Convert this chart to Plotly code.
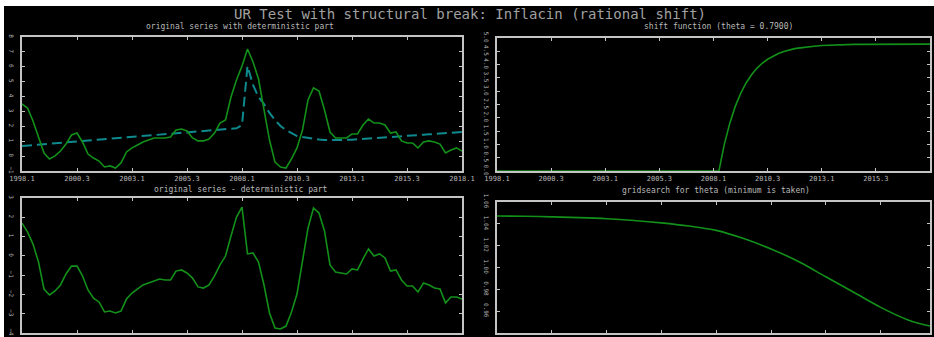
import plotly.graph_objects as go

W, H = 934, 337

# ---------------- data ----------------
years = [1998 + q / 4 for q in range(81)]
x_tickvals = [1998.0, 2000.5, 2003.0, 2005.5, 2008.0, 2010.5, 2013.0, 2015.5, 2018.0]
x_ticktext = ["1998.1", "2000.3", "2003.1", "2005.3", "2008.1", "2010.3", "2013.1", "2015.3", "2018.1"]

original = [3.50, 3.23, 2.36, 1.35, 0.21, -0.19, 0.01, 0.34, 0.81, 1.42,
            1.55, 0.95, 0.14, -0.13, -0.33, -0.73, -0.66, -0.80, -0.46, 0.28,
            0.55, 0.75, 0.95, 1.08, 1.22, 1.22, 1.22, 1.28, 1.75, 1.82,
            1.69, 1.22, 1.02, 1.02, 1.15, 1.55, 2.22, 2.43, 3.97, 5.11,
            6.05, 7.19, 6.32, 5.18, 3.10, 1.08, -0.40, -0.73, -0.80, -0.19,
            0.55, 1.75, 3.77, 4.58, 4.37, 3.10, 1.62, 1.22, 1.22, 1.22,
            1.49, 1.49, 2.09, 2.49, 2.22, 2.22, 2.09, 1.55, 1.62, 1.02,
            0.88, 0.88, 0.55, 0.95, 1.02, 0.95, 0.81, 0.21, 0.41, 0.55,
            0.34]

deterministic = [0.68, 0.71, 0.74, 0.77, 0.80, 0.83, 0.86, 0.89, 0.92, 0.95,
                 0.99, 1.02, 1.05, 1.08, 1.11, 1.14, 1.17, 1.20, 1.23, 1.26,
                 1.29, 1.32, 1.35, 1.38, 1.41, 1.44, 1.47, 1.50, 1.53, 1.56,
                 1.60, 1.63, 1.66, 1.69, 1.72, 1.75, 1.78, 1.81, 1.84, 1.87,
                 2.09, 6.05, 4.78, 3.97, 3.50, 2.90, 2.43, 2.02, 1.75, 1.55,
                 1.35, 1.28, 1.22, 1.15, 1.12, 1.09, 1.08, 1.08, 1.08, 1.09,
                 1.10, 1.13, 1.15, 1.18, 1.20, 1.23, 1.26, 1.28, 1.31, 1.33,
                 1.36, 1.39, 1.41, 1.44, 1.46, 1.49, 1.52, 1.54, 1.57, 1.59,
                 1.62]

residual = [1.70, 1.24, 0.61, -0.32, -1.72, -2.03, -1.82, -1.51, -0.94, -0.53,
            -0.53, -1.04, -1.77, -2.19, -2.39, -2.91, -2.86, -2.96, -2.86, -2.24,
            -1.93, -1.72, -1.51, -1.41, -1.30, -1.20, -1.25, -1.25, -0.79, -0.73,
            -0.89, -1.15, -1.61, -1.67, -1.51, -1.04, -0.47, -0.01, 1.03, 2.01,
            2.53, 0.10, 0.15, -0.32, -1.51, -2.96, -3.74, -3.79, -3.64, -2.91,
            -1.98, -0.32, 1.44, 2.48, 2.22, 1.29, -0.47, -0.84, -0.89, -0.94,
            -0.68, -0.73, -0.16, 0.36, -0.01, 0.10, -0.11, -0.79, -0.73, -1.25,
            -1.56, -1.56, -1.87, -1.41, -1.51, -1.67, -1.72, -2.44, -2.13, -2.13,
            -2.24]

shift = [0.00, 0.00, 0.00, 0.00, 0.00, 0.00, 0.00, 0.00, 0.00, 0.00,
         0.00, 0.00, 0.00, 0.00, 0.00, 0.00, 0.00, 0.00, 0.00, 0.00,
         0.00, 0.00, 0.00, 0.00, 0.00, 0.00, 0.00, 0.00, 0.00, 0.00,
         0.00, 0.00, 0.00, 0.00, 0.00, 0.00, 0.00, 0.00, 0.00, 0.00,
         0.00, 0.00, 1.00, 1.79, 2.42, 2.91, 3.30, 3.61, 3.86, 4.05,
         4.20, 4.32, 4.42, 4.49, 4.55, 4.60, 4.63, 4.66, 4.69, 4.70,
         4.72, 4.73, 4.74, 4.75, 4.75, 4.76, 4.76, 4.76, 4.76, 4.77,
         4.77, 4.77, 4.77, 4.77, 4.77, 4.77, 4.77, 4.77, 4.77, 4.77,
         4.77]

theta_grid = [0.00, 0.05, 0.10, 0.15, 0.20, 0.25, 0.30, 0.35, 0.40,
              0.45, 0.50, 0.55, 0.60, 0.65, 0.70, 0.75, 0.79]
gridsearch = [1.0472, 1.0469, 1.0464, 1.0457, 1.0447, 1.0431, 1.0409, 1.0380, 1.0340,
              1.0265, 1.0170, 1.0055, 0.9915, 0.9775, 0.9635, 0.9520, 0.9464]

title = "UR Test with structural break: Inflacin (rational shift)"
sub_titles = ["original series with deterministic part",
              "shift function (theta = 0.7900)",
              "original series - deterministic part",
              "gridsearch for theta (minimum is taken)"]

# ---------------- styling ----------------
GREEN = "#12901a"
TEAL = "#0e8a8e"
FRAME = "#c4c4c4"
TXT = "#b8b8b8"
MONO = "DejaVu Sans Mono"


def px_x(p):
    return p / W


def px_y(p):
    return 1 - p / H


fig = go.Figure()

fig.add_trace(go.Scatter(x=years, y=deterministic, mode="lines", xaxis="x", yaxis="y",
                         line=dict(color=TEAL, width=2, dash="10px,5px"), showlegend=False))
fig.add_trace(go.Scatter(x=years, y=original, mode="lines", xaxis="x", yaxis="y",
                         line=dict(color=GREEN, width=1.6), showlegend=False))
fig.add_trace(go.Scatter(x=years, y=shift, mode="lines", xaxis="x2", yaxis="y2",
                         line=dict(color=GREEN, width=1.6), showlegend=False))
fig.add_trace(go.Scatter(x=years, y=residual, mode="lines", xaxis="x3", yaxis="y3",
                         line=dict(color=GREEN, width=1.6), showlegend=False))
fig.add_trace(go.Scatter(x=theta_grid, y=gridsearch, mode="lines", xaxis="x4", yaxis="y4",
                         line=dict(color=GREEN, width=1.6, shape="spline"), showlegend=False))

ax_base = dict(showline=True, linecolor=FRAME, linewidth=2, mirror="allticks",
               ticks="inside", ticklen=3, tickcolor=FRAME, tickwidth=1,
               showgrid=False, zeroline=False, automargin=False)
x_font = dict(family=MONO, size=7, color=TXT)
y_font = dict(family=MONO, size=6, color=TXT)

xL = [px_x(22), px_x(462)]
xR = [px_x(497), px_x(930)]
yT = [px_y(171), px_y(37)]
yTR = [px_y(171), px_y(38)]
yB = [px_y(333), px_y(198)]
yBR = [px_y(333), px_y(202)]

fig.update_layout(
    width=W, height=H,
    margin=dict(l=0, r=0, t=0, b=0),
    template="none",
    paper_bgcolor="white",
    plot_bgcolor="black",
    xaxis=dict(domain=xL, anchor="y", range=[1998, 2018], tickvals=x_tickvals,
               ticktext=x_ticktext, tickfont=x_font, **ax_base),
    yaxis=dict(domain=yT, anchor="x", range=[-1, 8], dtick=1, tickangle=90,
               tickfont=y_font, ticklabelstandoff=4, **ax_base),
    xaxis2=dict(domain=xR, anchor="y2", range=[1998, 2018], tickvals=x_tickvals,
                ticktext=x_ticktext, tickfont=x_font, **ax_base),
    yaxis2=dict(domain=yTR, anchor="x2", range=[0, 5], dtick=0.5, tickformat=".1f",
                tickangle=90, tickfont=y_font, ticklabelstandoff=4, **ax_base),
    xaxis3=dict(domain=xL, anchor="y3", range=[1998, 2018], tickvals=x_tickvals,
                ticktext=x_ticktext, showticklabels=False, **ax_base),
    yaxis3=dict(domain=yB, anchor="x3", range=[-4, 3], dtick=1, tickangle=90,
                tickfont=y_font, ticklabelstandoff=4, **ax_base),
    xaxis4=dict(domain=xR, anchor="y4", range=[0, 0.79], dtick=0.1,
                showticklabels=False, **ax_base),
    yaxis4=dict(domain=yBR, anchor="x4", range=[0.94, 1.06], dtick=0.02, tickformat=".2f",
                tickangle=90, tickfont=y_font, ticklabelstandoff=4, **ax_base),
    shapes=[dict(type="rect", xref="paper", yref="paper", x0=px_x(4), x1=1,
                 y0=0, y1=px_y(6), fillcolor="black", line=dict(width=0), layer="below")],
)

annotations = [dict(text=title, x=px_x(470), y=px_y(14), xref="paper", yref="paper",
                    showarrow=False, xanchor="center", yanchor="middle",
                    font=dict(family=MONO, size=14, color="#a0a0a0"))]
sub_pos = [(240, 26), (718, 26), (241, 189), (716, 190)]
for t, (sx, sy) in zip(sub_titles, sub_pos):
    annotations.append(dict(text=t, x=px_x(sx), y=px_y(sy), xref="paper", yref="paper",
                            showarrow=False, xanchor="center", yanchor="middle",
                            font=dict(family=MONO, size=8, color=TXT)))
fig.update_layout(annotations=annotations)

fig.write_html("out.html")
